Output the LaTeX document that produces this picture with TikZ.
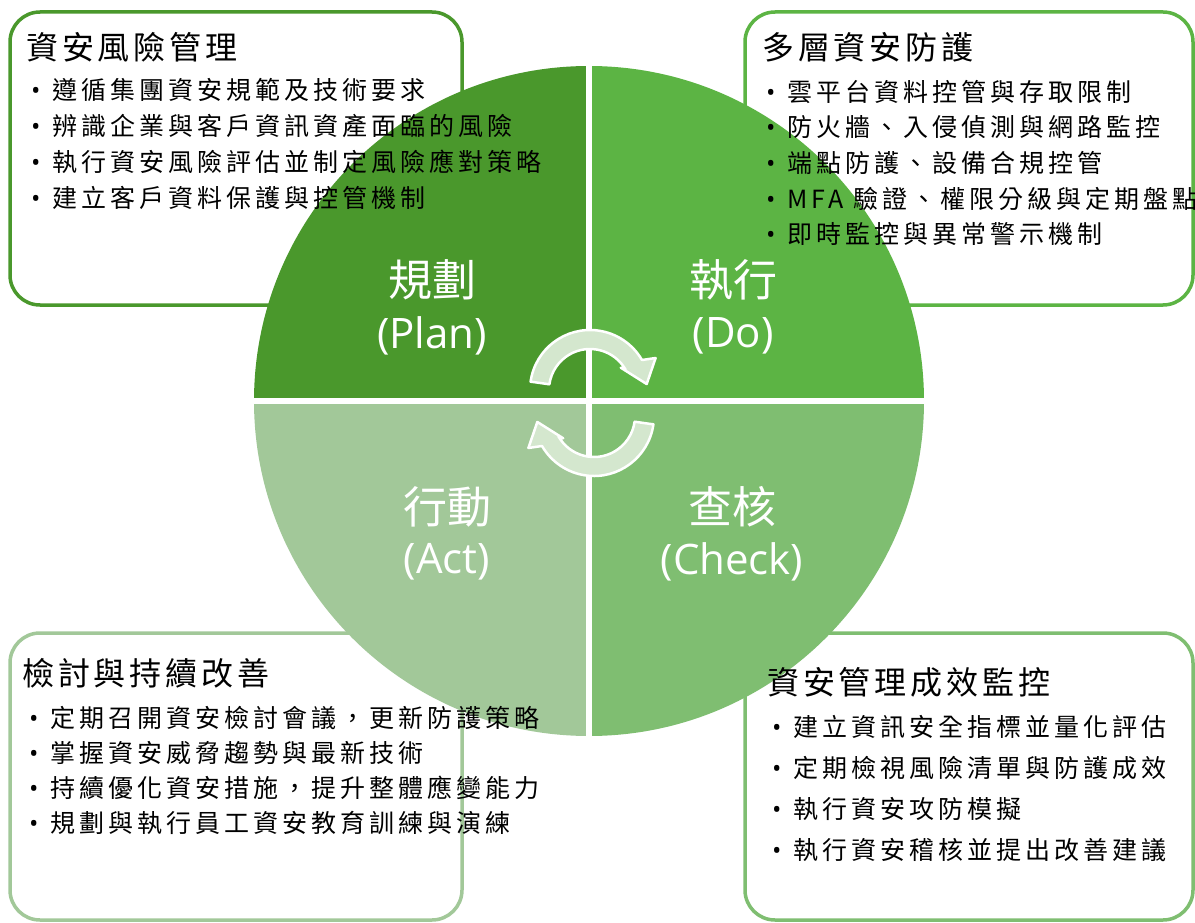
\documentclass[tikz,border=0pt]{standalone}
\usepackage{fontspec}
\usepackage{xcolor}
\setmainfont{Open Sans}
\newfontfamily\cjk{Noto Sans CJK TC}
\newfontfamily\cjkitem[LetterSpace=16]{Noto Sans CJK TC}
\newfontfamily\cjkhead[LetterSpace=12]{Noto Sans CJK TC}
\definecolor{planGreen}{RGB}{74,152,44}
\definecolor{doGreen}{RGB}{92,180,68}
\definecolor{checkGreen}{RGB}{127,190,113}
\definecolor{actGreen}{RGB}{162,200,153}
\definecolor{arrowFill}{RGB}{212,231,206}
\tikzset{
  box/.style={line width=3.5pt, rounded corners=30pt, fill=white},
  head/.style={anchor=west, inner sep=0pt, font=\cjkhead\fontsize{32}{38}\selectfont},
  item/.style={anchor=west, inner sep=0pt, font=\cjkitem\fontsize{25}{30}\selectfont},
  quad/.style={text=white, inner sep=0pt, font=\cjk\fontsize{44}{50}\selectfont},
  quadEn/.style={text=white, inner sep=0pt, font=\fontsize{42}{48}\selectfont},
  cycleArrow/.style={fill=arrowFill, draw=white, line width=2.5pt, line join=round},
}
\newcommand{\itm}[1]{\makebox[21pt][l]{\rmfamily •}#1}

\begin{document}
\begin{tikzpicture}[x=1pt, y=-1pt]
            \useasboundingbox (0,0) rectangle (1195,923);
            \draw[box, draw=planGreen] (10,12) rectangle (462,305);
            \draw[box, draw=doGreen] (745,12) rectangle (1193,305);
            \draw[box, draw=actGreen] (10,633) rectangle (462,920);
            \draw[box, draw=checkGreen] (745,633) rectangle (1193,920);

            \begin{scope}[shift={(589,401)}, yscale=-1]
              \foreach \a/\c in {90/planGreen, 0/doGreen, -90/checkGreen, -180/actGreen}
                \fill[\c] (0,0) -- (\a+90:335) arc[start angle=\a+90, end angle=\a, radius=335] -- cycle;
              \draw[white, line width=6pt] (-337,0) -- (337,0) (0,-337) -- (0,337);
            \end{scope}

            \begin{scope}[shift={(590,390)}, yscale=-1]
              \draw[cycleArrow] (172:60) arc[start angle=172, end angle=30, radius=60] -- (26:73) -- (6:57) -- (36:38) -- (30:41) arc[start angle=30, end angle=172, radius=41] -- cycle;
            \end{scope}
            \begin{scope}[shift={(594,416)}, yscale=-1, rotate=180]
              \draw[cycleArrow] (172:60) arc[start angle=172, end angle=30, radius=60] -- (26:73) -- (6:57) -- (36:38) -- (30:41) arc[start angle=30, end angle=172, radius=41] -- cycle;
            \end{scope}

            \node[quad] (plan) at (432,280) {規劃};
            \node[quadEn] (planEn) at (432,336) {(Plan)};
            \node[quad] (do) at (733,280) {執行};
            \node[quadEn] (doEn) at (733,336) {(Do)};
            \node[quad] (act) at (447,507) {行動};
            \node[quadEn] (actEn) at (447,562) {(Act)};
            \node[quad] (check) at (732,507) {查核};
            \node[quadEn] (checkEn) at (732,562) {(Check)};

            \node[head] (riskHead) at (26,47) {資安風險管理};
            \foreach \t [count=\i] in {遵循集團資安規範及技術要求, 辨識企業與客戶資訊資產面臨的風險, 執行資安風險評估並制定風險應對策略, 建立客戶資料保護與控管機制}
              \node[item] (risk\i) at (31,54+36*\i) {\itm{\t}};

            \node[head] (defHead) at (762,47) {多層資安防護};
            \foreach \t [count=\i] in {雲平台資料控管與存取限制, 防火牆、入侵偵測與網路監控, 端點防護、設備合規控管, MFA 驗證、權限分級與定期盤點, 即時監控與異常警示機制}
              \node[item] (def\i) at (766,56.5+35.5*\i) {\itm{\t}};

            \node[head] (reviewHead) at (22,673) {檢討與持續改善};
            \foreach \t [count=\i] in {定期召開資安檢討會議，更新防護策略, 掌握資安威脅趨勢與最新技術, 持續優化資安措施，提升整體應變能力, 規劃與執行員工資安教育訓練與演練}
              \node[item] (review\i) at (29,683+35*\i) {\itm{\t}};

            \node[head] (monHead) at (767,682) {資安管理成效監控};
            \foreach \t [count=\i] in {建立資訊安全指標並量化評估, 定期檢視風險清單與防護成效, 執行資安攻防模擬, 執行資安稽核並提出改善建議}
              \node[item] (mon\i) at (772,686+41*\i) {\itm{\t}};
        \end{tikzpicture}
\end{document}
